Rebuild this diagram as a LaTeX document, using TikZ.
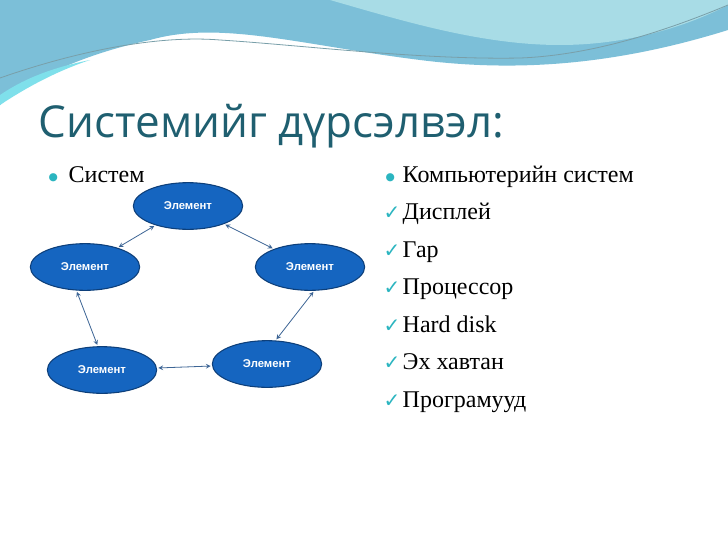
\documentclass[tikz,border=0pt]{standalone}
\usepackage{fontspec}
\setmainfont{Liberation Serif}
\newfontfamily\titlefont{Open Sans}
\newfontfamily\elemfont{Liberation Sans}
\newfontfamily\symfont{DejaVu Sans}
\usetikzlibrary{shapes.geometric}
\definecolor{elemblue}{HTML}{1565C0}
\definecolor{elemedge}{HTML}{0D3F7A}
\definecolor{titleteal}{HTML}{1F5F70}
\definecolor{checkteal}{HTML}{2BB5C0}
\definecolor{waveA}{HTML}{7CBFD8}
\definecolor{waveB}{HTML}{A8DCE6}
\definecolor{waveC}{HTML}{5FD8E6}
\tikzset{
  elem/.style={ellipse, fill=elemblue, draw=elemedge, line width=0.8pt,
    minimum width=82pt, minimum height=35pt, inner sep=0pt,
    font=\elemfont\bfseries\fontsize{8.5}{9}\selectfont, text=white},
  link/.style={<->, >=stealth, draw=elemedge!80, line width=0.6pt, shorten <=1pt, shorten >=1pt},
  item/.style={anchor=base west, font=\fontsize{18}{20}\selectfont},
}
\begin{document}
\begin{tikzpicture}[x=0.75pt,y=-0.75pt]
\useasboundingbox (0,0) rectangle (728,546);
\fill[white] (0,0) rectangle (728,546);
% header waves
\fill[waveA] (0,0) -- (728,0) -- (728,30) .. controls (600,70) and (500,70) .. (420,60)
  .. controls (300,45) and (220,20) .. (150,40) .. controls (80,55) and (30,80) .. (0,105) -- cycle;
\fill[waveB] (330,0) -- (728,0) -- (728,5) .. controls (680,30) and (620,45) .. (560,45)
  .. controls (480,45) and (400,20) .. (330,0) -- cycle;
\fill[waveC!80] (0,105) .. controls (30,85) and (60,70) .. (90,60) .. controls (40,70) and (15,85) .. (0,95) -- cycle;
\draw[titleteal!60, line width=0.6pt] (0,78) .. controls (80,50) and (160,35) .. (220,40)
  .. controls (300,45) and (420,60) .. (520,58) .. controls (600,55) and (680,25) .. (728,5);
% title
\node[anchor=base west, font=\titlefont\fontsize{33}{36}\selectfont, text=titleteal] (title) at (34,137) {Системийг дүрсэлвэл:};
% left column
\node[anchor=base west, font=\symfont\fontsize{8}{9}\selectfont, text=checkteal] (b0) at (44,180) {●};
\node[item] (sys) at (64,182) {Систем};
\node[elem] (e1) at (188,206) {Элемент};
\node[elem] (e2) at (85,267) {Элемент};
\node[elem] (e3) at (310,267) {Элемент};
\node[elem] (e4) at (102,370) {Элемент};
\node[elem] (e5) at (267,364) {Элемент};
\draw[link] (e1) -- (e2);
\draw[link] (e1) -- (e3);
\draw[link] (e2.-110) -- (e4.100);
\draw[link] (e3.-80) -- (e5.70);
\draw[link] (e4) -- (e5);
% right column
\node[anchor=base west, font=\symfont\fontsize{8}{9}\selectfont, text=checkteal] (b1) at (381,180) {●};
\node[item] (c0) at (398,182) {Компьютерийн систем};
\foreach \txt [count=\i] in {Дисплей, Гар, Процессор, Hard disk, Эх хавтан, Програмууд}{
  \node[anchor=base west, font=\symfont\bfseries\fontsize{15}{16}\selectfont, text=checkteal] (k\i) at (379,182+37.5*\i) {✓};
  \node[item] (c\i) at (398,182+37.5*\i) {\txt};
}
\end{tikzpicture}
\end{document}
